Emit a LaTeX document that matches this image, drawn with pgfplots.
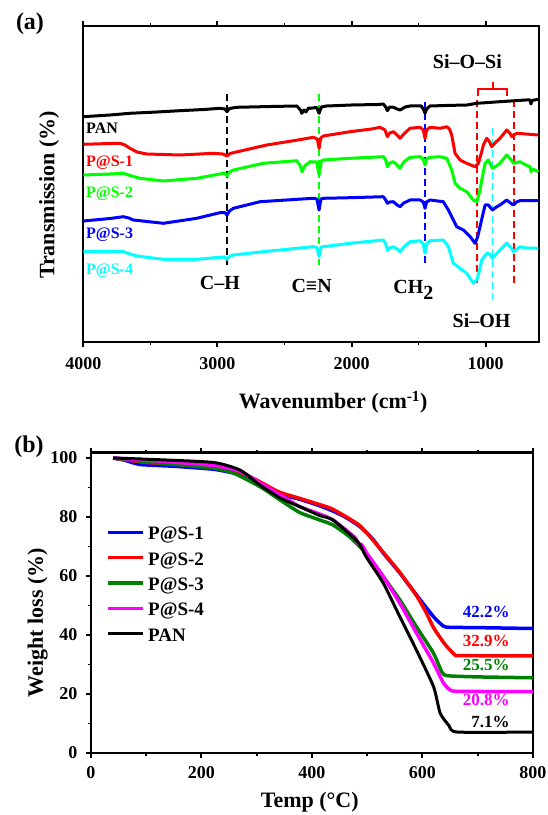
\documentclass[border=0pt]{standalone}
\usepackage{fontspec}
\setmainfont{Liberation Serif}
\usepackage{pgfplots}
\pgfplotsset{compat=1.18}

\definecolor{ftgreen}{RGB}{0,255,0}
\definecolor{ftcyan}{RGB}{0,255,255}
\definecolor{tgreen}{RGB}{0,128,0}
\definecolor{tmag}{RGB}{255,0,255}
\newcommand{\fs}[1]{\bfseries\fontsize{#1}{#1}\selectfont}

\pgfplotsset{
  panel/.style={
    scale only axis,
    anchor=south west,
    axis line style={line width=2.4pt},
    tick align=outside,
    major tick length=5pt,
    minor tick length=3pt,
    every major tick/.append style={black, line width=2pt},
    every minor tick/.append style={black, line width=1.6pt},
    tick label style={font=\fs{18}},
    label style={font=\fs{22}},
    /pgf/number format/assume math mode=true,
    /pgf/number format/1000 sep={},
    clip=false,
  },
  ir/.style={line width=3pt, line join=round},
  tg/.style={line width=3.5pt, line join=round, smooth, tension=0.35},
  ref/.style={line width=1.6pt, dash pattern=on 7pt off 4pt},
}

\begin{document}
\begin{tikzpicture}[x=1pt,y=1pt]
\useasboundingbox (0,0) rectangle (547,815);

% ---------------- (a) FTIR
\begin{axis}[panel,
  at={(83.3pt,473pt)}, width=456pt, height=316pt,
  x dir=reverse, xmin=600, xmax=4000, ymin=0, ymax=316,
  xtick={1000,2000,3000,4000}, minor xtick={1500,2500,3500},
  xtick pos=both, xticklabel pos=lower,
  ytick=\empty,
  xticklabel style={anchor=base, yshift=-22.5pt},
  xlabel={Wavenumber (cm\textsuperscript{-1})},
  ylabel={Transmission (\%)},
  xlabel style={at={(axis description cs:0.548,-0.211)}, anchor=base},
  ylabel style={at={(axis description cs:-0.0636,0.465)}, anchor=base},
]
% reference lines
\addplot[ref, black]   coordinates {(2928,248) (2928,77)};
\addplot[ref, ftgreen] coordinates {(2242,248) (2242,77)};
\addplot[ref, blue]    coordinates {(1452,240) (1452,77)};
\addplot[ref, red]     coordinates {(1066,242) (1066,59)};
\addplot[ref, red]     coordinates {(788,242) (788,59)};
\addplot[ref, ftcyan]  coordinates {(950,214) (950,42)};
\addplot[red, line width=1.8pt] coordinates {(1059,246) (1059,252.7) (838,252.7) (838,246)};
\addplot[red, line width=1.8pt] coordinates {(947,252.7) (947,260)};

% PAN
\addplot[ir, black] coordinates {
(4000,225.3) (3800,227) (3652,228.7) (3450,230) (3279,231.3) (3100,232.5) (2981,233.7)
(2945,233) (2928,230.3) (2910,233.5) (2856,234.7) (2600,235.5) (2409,236) (2380,232)
(2371,228.7) (2355,232) (2340,230) (2320,234) (2309,233.7) (2260,234.5) (2242,228.7)
(2225,235) (2185,236) (2000,237) (1800,237.5) (1763,238) (1745,235) (1733,231.3)
(1715,235) (1688,234.7) (1660,233) (1638,232) (1600,235) (1564,236) (1480,236)
(1465,233) (1452,228.7) (1440,233) (1415,236) (1300,236.5) (1141,237) (1066,238.7)
(893,240.3) (700,242) (669,242) (662,238) (655,241.5) (607,242.7)};
% P@S-1
\addplot[ir, red] coordinates {
(4000,197.7) (3800,198.5) (3726,198.7) (3690,197) (3652,193.7) (3600,190) (3527,188)
(3279,187) (3031,188.7) (2960,188) (2928,186) (2905,188.5) (2881,189.3) (2632,197)
(2400,202) (2285,204.7) (2255,203) (2242,193.7) (2230,204) (2210,206) (2011,210.3)
(1850,213) (1788,214.7) (1750,212) (1733,205.3) (1715,209) (1688,210.3) (1660,207)
(1638,203.7) (1610,208) (1564,213.7) (1489,214.7) (1465,212) (1452,203.7) (1440,212)
(1415,214.7) (1340,213.7) (1290,215.3) (1270,213) (1253,207) (1228,188.7) (1191,182)
(1141,178.7) (1079,175.3) (1054,178.7) (1030,190) (1017,197) (992,203.7) (970,200)
(955,195.3) (930,199) (893,203.7) (843,212) (820,209) (805,205.3) (790,207)
(768,208.7) (700,208) (607,207)};
% P@S-2
\addplot[ir, ftgreen] coordinates {
(4000,167) (3800,168) (3702,168.7) (3640,166) (3577,163.7) (3403,161) (3154,163.7)
(2981,168) (2945,169) (2928,166) (2910,170) (2881,172) (2658,178.7) (2409,181.3)
(2385,177) (2369,170.3) (2350,176) (2309,180.3) (2260,180) (2242,167) (2225,181)
(2210,182) (2011,183.7) (1763,185.3) (1745,182) (1733,175.3) (1715,179) (1688,180.3)
(1660,177) (1638,173.7) (1610,180) (1564,184.7) (1489,185.3) (1465,183) (1452,177)
(1440,183) (1415,184.7) (1340,185.3) (1290,183.7) (1253,172) (1228,158.7) (1191,153.7)
(1141,150.3) (1092,142) (1066,140.3) (1045,150) (1029,162) (1004,178.7) (980,182)
(950,173.7) (920,176) (893,178.7) (843,187) (815,183) (793,178.7) (744,180.3)
(700,177) (669,175.3) (662,170.3) (650,173) (607,170.3)};
% P@S-3
\addplot[ir, blue] coordinates {
(4000,121) (3800,123.5) (3702,125.3) (3660,124) (3627,122) (3403,118.7) (3154,123.7)
(2981,129.3) (2945,129.5) (2928,127) (2910,131) (2881,133.7) (2682,140.3) (2285,143.7)
(2258,143) (2242,132) (2228,143) (2210,143.7) (2011,144.3) (1763,145.3) (1745,142)
(1733,138.7) (1715,140) (1688,140.3) (1660,137) (1638,135.3) (1610,139) (1564,142)
(1489,142) (1465,140) (1452,133.7) (1440,140) (1415,142) (1316,140.3) (1278,132)
(1241,122) (1216,115.3) (1166,112) (1116,105.3) (1079,98.7) (1060,105) (1042,115.3)
(1020,128) (1004,137) (980,137) (950,132) (920,135) (893,137) (843,142) (815,139)
(793,137) (770,140) (744,141.3) (607,141.3)};
% P@S-4
\addplot[ir, ftcyan] coordinates {
(4000,90.3) (3702,90.3) (3650,88) (3602,86) (3403,82.7) (3154,82.7) (2981,84.7)
(2945,85) (2928,82.7) (2910,85.5) (2881,87) (2658,90.3) (2285,95.3) (2258,94.5)
(2242,85.3) (2228,95) (2210,95.3) (2011,98.7) (1763,102) (1745,98) (1733,92)
(1715,94) (1688,95.3) (1660,93) (1638,90.3) (1610,95) (1564,100.3) (1489,101.3)
(1465,98) (1452,88.7) (1440,98) (1415,101.3) (1316,102) (1278,95.3) (1241,78.7)
(1191,73.7) (1141,68.7) (1092,58.7) (1066,62) (1045,72) (1029,82) (992,88.7)
(970,88) (950,83.7) (920,88) (893,92) (843,98.7) (815,95) (793,90.3) (744,95.3)
(700,94) (607,93.7)};

\begin{scope}[every node/.style={font=\fs{16}, anchor=base west, inner sep=0pt}]
\node[black]   at (axis cs:3980,208.7) {PAN};
\node[red]     at (axis cs:3980,175.3) {P@S-1};
\node[ftgreen] at (axis cs:3980,144.3) {P@S-2};
\node[blue]    at (axis cs:3980,103.7) {P@S-3};
\node[ftcyan]  at (axis cs:3980,67.7)  {P@S-4};
\end{scope}
\begin{scope}[every node/.style={font=\fs{20}, anchor=base, inner sep=0pt}]
\node at (axis cs:2981,52.7) {C–H};
\node at (axis cs:2297,49.3) {C≡N};
\node at (axis cs:1539,48.7) {CH\raisebox{-6pt}{2}};
\node at (axis cs:1136,273.7) {Si–O–Si};
\node at (axis cs:1030,14.6) {Si–OH};
\end{scope}
\end{axis}
\node[font=\fs{24}] at (30,791) {(a)};

% ---------------- (b) TGA
\begin{axis}[panel,
  at={(91pt,62pt)}, width=442pt, height=300.3pt,
  xmin=0, xmax=800, ymin=0, ymax=101.8,
  xtick={0,200,400,600,800}, minor x tick num=1,
  ytick={0,20,40,60,80,100}, minor y tick num=1,
  xtick pos=both, xticklabel pos=lower, ytick pos=left,
  xticklabel style={anchor=base, yshift=-20pt},
  yticklabel style={xshift=-5pt},
  xlabel={Temp (°C)},
  ylabel={Weight loss (\%)},
  xlabel style={at={(axis description cs:0.495,-0.183)}, anchor=base},
  ylabel style={at={(axis description cs:-0.109,0.434)}, anchor=base},
  legend style={at={(axis description cs:0.034,0.754)}, anchor=north west,
    draw=none, fill=none, font=\fs{19}, inner sep=0pt,
    row sep=6.4pt, column sep=3.5pt,
    nodes={inner sep=0pt, text height=13pt, text depth=6pt}},
  legend cell align=left,
  legend image code/.code={\draw[#1, sharp plot] (0pt,4pt) -- (35pt,4pt);},
]
\addplot[tg, blue] coordinates {
(40,100) (60,99.3) (89,97.8) (150,97.2) (221,96.2) (260,94.8) (282,93.1) (318,89.2)
(350,87.3) (378,86.0) (414,83.8) (438,82.0) (460,80.0) (487,76.7) (510,72.5)
(529,67.8) (559,61.0) (589,53.6) (620,46.2) (638,43.0) (650,42.6) (700,42.5) (800,42.2)};
\addlegendentry{P@S-1}
\addplot[tg, red] coordinates {
(40,100) (100,98.5) (200,97.5) (260,95.8) (300,92.5) (340,88.5) (378,86.3) (414,84.2)
(438,82.6) (487,77.0) (529,68.0) (559,61.2) (589,53.4) (607,47.5) (620,42.5)
(640,37.0) (659,33.2) (670,33.0) (800,32.9)};
\addlegendentry{P@S-2}
\addplot[tg, tgreen] coordinates {
(40,100) (101,98.7) (221,96.6) (258,94.9) (306,90.3) (342,85.8) (378,81.5) (414,79.0)
(438,77.3) (468,73.3) (498,67.7) (529,59.8) (559,51.9) (589,42.8) (620,33.8)
(635,27.5) (645,26.2) (700,25.8) (800,25.5)};
\addlegendentry{P@S-3}
\addplot[tg, tmag] coordinates {
(40,100) (100,99.3) (221,97.5) (270,95.5) (306,91.5) (342,87.5) (378,83.5) (414,81.0)
(438,79.0) (478,73.0) (483,71.0) (490,70.6) (500,67.5) (529,59.8) (559,50.8)
(589,40.7) (620,30.5) (638,23.7) (650,21.4) (665,20.9) (800,20.8)};
\addlegendentry{P@S-4}
\addplot[tg, black, line width=3pt] coordinates {
(40,100) (100,99.6) (221,98.5) (270,95.9) (306,90.8) (342,86.5) (378,83.5) (414,80.5)
(438,79.0) (483,71.6) (498,66.5) (529,57.6) (559,46.2) (589,34.9) (620,22.5)
(632,13.5) (648,9.3) (663,7.1) (800,7.1)};
\addlegendentry{PAN}

\begin{scope}[every node/.style={font=\fs{17}, anchor=base east, inner sep=0pt}]
\node[blue]    at (axis cs:758,46.0) {42.2\%};
\node[red]     at (axis cs:758,36.0) {32.9\%};
\node[tgreen]  at (axis cs:758,27.8) {25.5\%};
\node[tmag]    at (axis cs:758,16.1) {20.8\%};
\node[black]   at (axis cs:758,8.7)  {7.1\%};
\end{scope}
\end{axis}
\node[font=\fs{24}] at (29,368) {(b)};
\end{tikzpicture}
\end{document}
